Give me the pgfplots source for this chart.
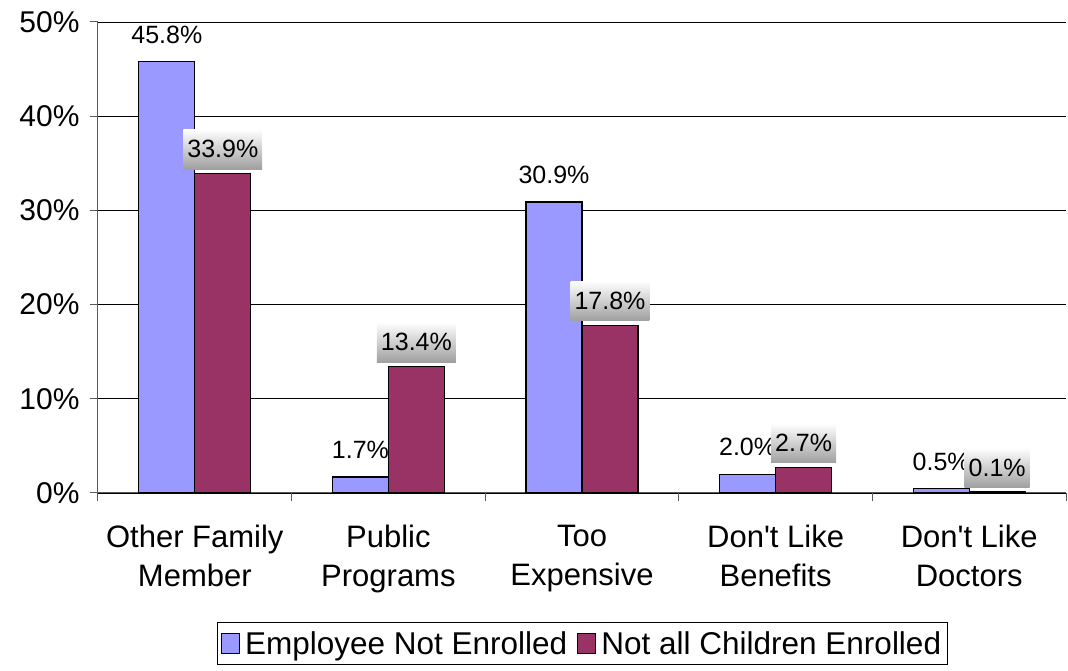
\documentclass[border=0pt]{standalone}
\usepackage{pgfplots}
\pgfplotsset{compat=1.18}
\usepackage{fontspec}
\setmainfont{Liberation Sans}
\definecolor{cblue}{HTML}{9999FF}
\definecolor{cred}{HTML}{993366}
\begin{document}
\begin{tikzpicture}
\useasboundingbox (-98pt,-178pt) rectangle (970pt,493pt);
\begin{axis}[
  at={(0,0)}, anchor=south west,
  scale only axis, width=968pt, height=471pt,
  xmin=-0.5, xmax=4.5, ymin=0, ymax=50,
  ybar=0pt, bar width=56pt,
  axis x line*=bottom, axis y line*=left,
  axis line style={-, gray!70!black, line width=1pt},
  xtick={0,1,2,3,4},
  xticklabels={{Other Family\\Member},{Public\\Programs},{Too\\Expensive},{Don\textquotesingle t Like\\Benefits},{Don\textquotesingle t Like\\Doctors}},
  xticklabel style={align=center, font=\fontsize{31}{39}\selectfont, yshift=-21pt},
  x tick style={draw=none},
  extra x ticks={-0.5,0.5,1.5,2.5,3.5,4.5},
  extra x tick labels={},
  extra x tick style={x tick style={draw=gray!70!black, line width=1pt}, major tick length=8pt, tick align=outside},
  ytick={0,10,20,30,40,50},
  yticklabel={\pgfmathprintnumber{\tick}\%},
  yticklabel style={font=\fontsize{30}{34}\selectfont, xshift=-7pt},
  /pgf/number format/assume math mode=true,
  y tick style={gray!70!black, line width=1pt},
  tick align=outside, major tick length=8pt,
  ymajorgrids, grid style={black, line width=0.6pt},
  legend style={at={(0.5,-0.274)}, anchor=north, legend columns=2, draw=black, line width=0.6pt,
    font=\fontsize{31.5}{36}\selectfont, inner xsep=4pt, inner ysep=7pt,
    /tikz/every odd column/.append style={column sep=3pt},
    /tikz/every even column/.append style={column sep=8pt}},
  legend image code/.code={\draw[#1, draw=black, line width=1.2pt] (0pt,-10pt) rectangle (18pt,10pt);},
  nodes near coords={\pgfmathprintnumber[fixed,fixed zerofill,precision=1]{\pgfplotspointmeta}\%},
  nodes near coords style={font=\fontsize{25}{30}\selectfont, /pgf/number format/assume math mode=true},
]
\addplot[fill=cblue, draw=black, line width=1.2pt,
  nodes near coords style={yshift=14pt}]
  coordinates {(0,45.8) (1,1.7) (2,30.9) (3,2.0) (4,0.5)};
\addplot[fill=cred, draw=black, line width=1.2pt,
  every node near coord/.append style={top color=white, bottom color=gray!75, draw=none, inner xsep=4pt, inner ysep=11pt, text=black, yshift=4pt}]
  coordinates {(0,33.9) (1,13.4) (2,17.8) (3,2.7) (4,0.1)};
\legend{Employee Not Enrolled, Not all Children Enrolled}
\end{axis}
\end{tikzpicture}
\end{document}
